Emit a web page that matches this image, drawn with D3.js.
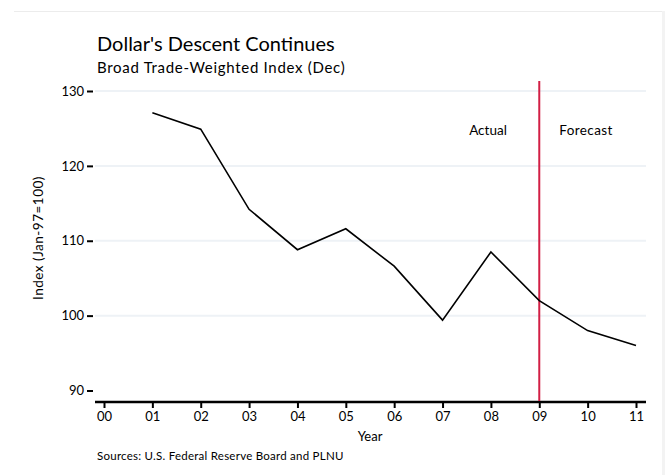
<!DOCTYPE html>
<html>
<head>
<meta charset="utf-8">
<script src="https://cdn.jsdelivr.net/npm/d3@7"></script>
<style>
  html, body { margin: 0; padding: 0; background: #fff; }
  svg { display: block; font-family: Lato, "Noto Sans", sans-serif; }
</style>
</head>
<body>
<svg id="chart" width="665" height="475"></svg>
<script>
// Broad trade-weighted dollar index, December readings
const years = ["00", "01", "02", "03", "04", "05", "06", "07", "08", "09", "10", "11"];
const dataYears = ["01", "02", "03", "04", "05", "06", "07", "08", "09", "10", "11"];
const indexValues = [127.1, 124.9, 114.2, 108.8, 111.6, 106.6, 99.4, 108.5, 102.0, 98.0, 96.0];
const yTicks = [90, 100, 110, 120, 130];
const forecastStart = "09";

const svg = d3.select("#chart");
const W = 665, H = 475;

// light outer frame
svg.append("line").attr("x1", 14).attr("x2", 663).attr("y1", 11.5).attr("y2", 11.5)
  .attr("stroke", "#ececec").attr("stroke-width", 1);
svg.append("rect").attr("x", 662).attr("y", 11).attr("width", 3).attr("height", H - 11)
  .attr("fill", "#f3f3f3");

const x = d3.scalePoint().domain(years).range([104, 636]);
const y = d3.scaleLinear().domain([90, 130]).range([390.5, 91]);

// horizontal gridlines
svg.append("g").selectAll("line").data(yTicks.filter(d => d > 90)).join("line")
  .attr("x1", 95).attr("x2", 646)
  .attr("y1", d => y(d)).attr("y2", d => y(d))
  .attr("stroke", "#eef2f6").attr("stroke-width", 2);

// y axis: ticks only, no domain line
const yAxis = svg.append("g").attr("transform", "translate(93,0)")
  .call(d3.axisLeft(y).tickValues(yTicks).tickSize(6).tickPadding(3));
yAxis.select(".domain").remove();
yAxis.selectAll(".tick line").attr("stroke", "#000").attr("stroke-width", 2);
yAxis.selectAll(".tick text").attr("font-size", 13).attr("fill", "#000")
  .attr("font-family", "Lato, sans-serif");

// x axis
const xAxis = svg.append("g").attr("transform", "translate(0,402)")
  .call(d3.axisBottom(x).tickSize(6).tickSizeOuter(0).tickPadding(4));
xAxis.select(".domain").attr("d", "M95,0H646").attr("stroke", "#000").attr("stroke-width", 2.5);
xAxis.selectAll(".tick line").attr("stroke", "#000").attr("stroke-width", 2);
xAxis.selectAll(".tick text").attr("font-size", 13).attr("fill", "#000")
  .attr("font-family", "Lato, sans-serif");

// forecast divider
svg.append("line")
  .attr("x1", x(forecastStart)).attr("x2", x(forecastStart))
  .attr("y1", 81).attr("y2", 401)
  .attr("stroke", "#d21f45").attr("stroke-width", 2);

// index line
const line = d3.line().x((d, i) => x(dataYears[i])).y(d => y(d));
svg.append("path").datum(indexValues)
  .attr("d", line).attr("fill", "none")
  .attr("stroke", "#000").attr("stroke-width", 1.6).attr("stroke-linejoin", "miter");

// labels
svg.append("text").attr("x", 488).attr("y", 135).attr("text-anchor", "middle")
  .attr("font-size", 13.5).text("Actual");
svg.append("text").attr("x", 586).attr("y", 135).attr("text-anchor", "middle")
  .attr("font-size", 13.5).attr("letter-spacing", 0.4).text("Forecast");

svg.append("text").attr("x", 97).attr("y", 51).attr("font-size", 20)
  .text("Dollar's Descent Continues");
svg.append("text").attr("x", 97).attr("y", 73).attr("font-size", 15)
  .attr("letter-spacing", 0.7).text("Broad Trade-Weighted Index (Dec)");

svg.append("text").attr("transform", "translate(43,238) rotate(-90)")
  .attr("text-anchor", "middle").attr("font-size", 13.5).attr("letter-spacing", 0.5)
  .text("Index (Jan-97=100)");
svg.append("text").attr("x", 370).attr("y", 441).attr("text-anchor", "middle")
  .attr("font-size", 13).text("Year");
svg.append("text").attr("x", 97).attr("y", 460).attr("font-size", 11.5)
  .attr("letter-spacing", 0.25).text("Sources: U.S. Federal Reserve Board and PLNU");
</script>
</body>
</html>
